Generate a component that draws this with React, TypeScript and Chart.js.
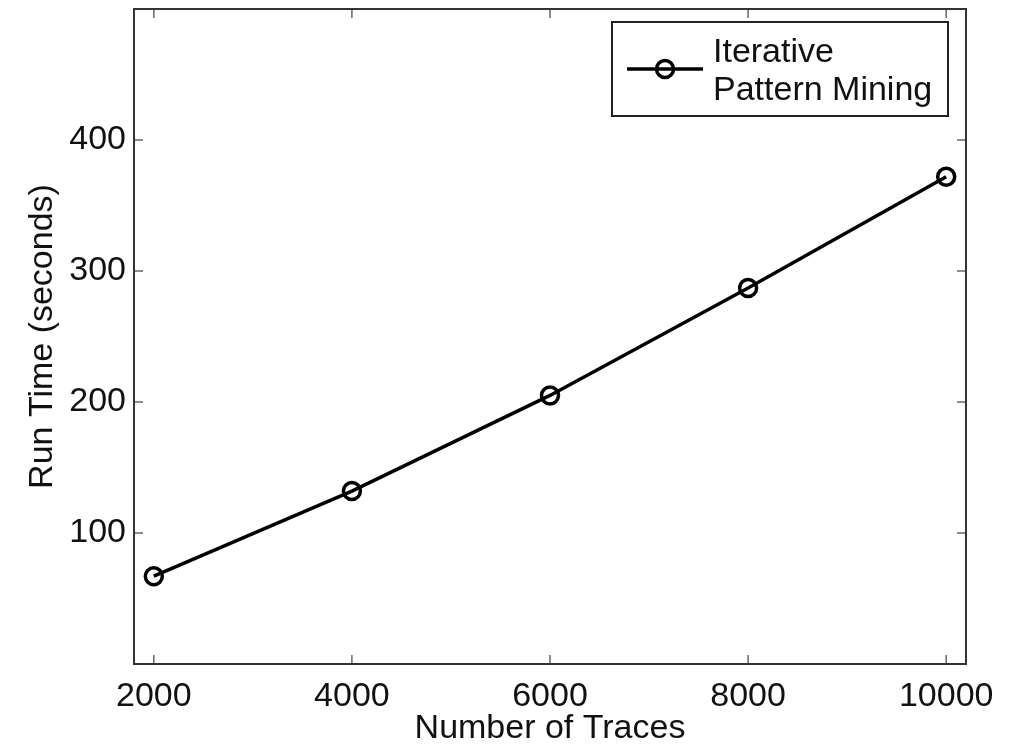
import React, { useEffect, useRef } from "react";
import { Chart, registerables } from "chart.js";
Chart.register(...registerables);

const traceCounts = [2000, 4000, 6000, 8000, 10000];
const runTimeSeconds = [67, 132, 205, 287, 372];
const xTickValues = [2000, 4000, 6000, 8000, 10000];
const yTickValues = [100, 200, 300, 400];
const seriesLabel = ["Iterative", "Pattern Mining"];
const xTitle = "Number of Traces";
const yTitle = "Run Time (seconds)";

const FONT = '"Liberation Sans", Arial, Helvetica, sans-serif';
const FONT_SIZE = 34;

export default function App() {
  const ref = useRef<HTMLCanvasElement>(null);

  useEffect(() => {
    if (!ref.current) return;
    const framePlugin = {
      id: "matlabFrame",
      afterDraw(chart: any) {
        const { ctx, chartArea: a, scales } = chart;
        ctx.save();
        const line = (x1: number, y1: number, x2: number, y2: number) => {
          ctx.beginPath();
          ctx.moveTo(x1, y1);
          ctx.lineTo(x2, y2);
          ctx.stroke();
        };
        // inward ticks on all four sides
        ctx.strokeStyle = "#666";
        ctx.lineWidth = 1.5;
        xTickValues.forEach((v) => {
          const x = scales.x.getPixelForValue(v);
          line(x, a.bottom, x, a.bottom - 9);
          line(x, a.top, x, a.top + 9);
        });
        yTickValues.forEach((v) => {
          const y = scales.y.getPixelForValue(v);
          line(a.left, y, a.left + 9, y);
          line(a.right, y, a.right - 9, y);
        });
        // frame
        ctx.strokeStyle = "#333";
        ctx.lineWidth = 2;
        ctx.strokeRect(a.left, a.top, a.right - a.left, a.bottom - a.top);

        // axis titles
        ctx.fillStyle = "#111";
        ctx.font = `${FONT_SIZE}px ${FONT}`;
        ctx.textAlign = "center";
        ctx.textBaseline = "alphabetic";
        ctx.fillText(xTitle, (a.left + a.right) / 2, 738);
        ctx.save();
        ctx.translate(52, (a.top + a.bottom) / 2);
        ctx.rotate(-Math.PI / 2);
        ctx.fillText(yTitle, 0, 0);
        ctx.restore();

        // legend
        const bx = a.right - 354;
        const by = a.top + 13;
        const bw = 336;
        const bh = 94;
        ctx.fillStyle = "#fff";
        ctx.fillRect(bx, by, bw, bh);
        ctx.strokeStyle = "#222";
        ctx.lineWidth = 2;
        ctx.strokeRect(bx, by, bw, bh);
        const ly = by + 47;
        ctx.strokeStyle = "#000";
        ctx.lineWidth = 3.5;
        line(bx + 15, ly, bx + 91, ly);
        ctx.beginPath();
        ctx.arc(bx + 53, ly, 8.5, 0, Math.PI * 2);
        ctx.stroke();
        ctx.fillStyle = "#111";
        ctx.textAlign = "left";
        ctx.fillText(seriesLabel[0], bx + 101, by + 40);
        ctx.fillText(seriesLabel[1], bx + 101, by + 78);
        ctx.restore();
      },
    };

    const chart = new Chart(ref.current, {
      type: "line",
      data: {
        datasets: [
          {
            label: seriesLabel.join(" "),
            data: traceCounts.map((x, i) => ({ x, y: runTimeSeconds[i] })),
            borderColor: "#000",
            borderWidth: 3.5,
            pointRadius: 8.5,
            pointHoverRadius: 8.5,
            pointBorderWidth: 3.5,
            pointBorderColor: "#000",
            pointBackgroundColor: "rgba(0,0,0,0)",
            tension: 0,
            fill: false,
          },
        ],
      },
      options: {
        animation: false,
        responsive: true,
        maintainAspectRatio: false,
        layout: { autoPadding: false, padding: { top: 9, right: 48, left: 0, bottom: 0 } },
        plugins: { legend: { display: false }, tooltip: { enabled: false } },
        scales: {
          x: {
            type: "linear",
            min: 1800,
            max: 10200,
            afterBuildTicks: (s: any) => {
              s.ticks = xTickValues.map((value) => ({ value }));
            },
            afterFit: (s: any) => {
              s.height = 83;
              s.paddingLeft = 0;
              s.paddingRight = 0;
              s.paddingTop = 0;
              s.paddingBottom = 0;
            },
            grid: { display: false, drawTicks: false },
            border: { display: false },
            ticks: {
              padding: 12,
              color: "#111",
              font: { family: FONT, size: FONT_SIZE },
              callback: (v: any) => String(v),
              maxRotation: 0,
              autoSkip: false,
            },
          },
          y: {
            type: "linear",
            min: 0,
            max: 500,
            afterBuildTicks: (s: any) => {
              s.ticks = yTickValues.map((value) => ({ value }));
            },
            afterFit: (s: any) => {
              s.width = 134;
              s.paddingTop = 0;
              s.paddingBottom = 0;
              s.paddingLeft = 0;
              s.paddingRight = 0;
            },
            grid: { display: false, drawTicks: false },
            border: { display: false },
            ticks: {
              padding: 8,
              color: "#111",
              font: { family: FONT, size: FONT_SIZE },
              callback: (v: any) => String(v),
              autoSkip: false,
            },
          },
        },
      },
      plugins: [framePlugin],
    } as any);
    return () => chart.destroy();
  }, []);

  return (
    <div style={{ position: "fixed", left: 0, top: 0, width: 1014, height: 747, background: "#fff" }}>
      <canvas ref={ref} />
    </div>
  );
}
